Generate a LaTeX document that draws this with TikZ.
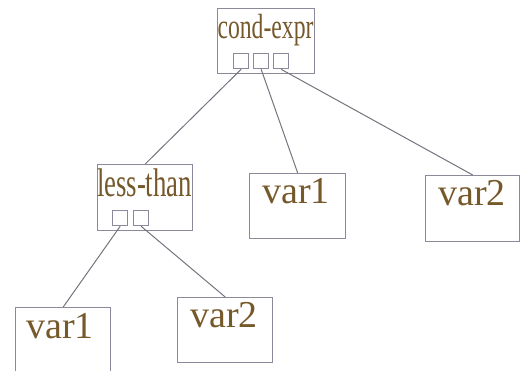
\documentclass[tikz,border=0pt]{standalone}
\usepackage{fontspec}
\setmainfont{Liberation Serif}
\usepackage{graphicx}
\definecolor{frame}{HTML}{8A8A9A}
\definecolor{wire}{HTML}{74747F}
\definecolor{ink}{HTML}{76592B}
\tikzset{
  cell/.style={draw=frame, line width=1.4pt, anchor=north west, inner sep=0pt},
  port/.style={draw=frame, line width=1.3pt, anchor=north west, inner sep=0pt, minimum width=15pt, minimum height=15pt},
  label/.style={anchor=base, inner sep=0pt, text=ink},
  edge/.style={draw=wire, line width=1pt},
}
\begin{document}
\begin{tikzpicture}[x=1pt, y=-1pt]
\useasboundingbox (0,0) rectangle (529,370);

% cond-expr node with three ports
\node[cell, minimum width=97pt, minimum height=65pt] (ce) at (217,8) {};
\node[label] (celab) at (265.5,38) {\resizebox{96pt}{\height}{\fontsize{35}{35}\selectfont cond-expr}};
\node[port] (cp1) at (233,53) {};
\node[port] (cp2) at (253,53) {};
\node[port] (cp3) at (273,53) {};

% less-than node with two ports
\node[cell, minimum width=95pt, minimum height=66pt] (lt) at (97,164) {};
\node[label] (ltlab) at (144.5,196) {\resizebox{95pt}{\height}{\fontsize{40}{40}\selectfont less-than}};
\node[port] (lp1) at (112,210) {};
\node[port] (lp2) at (133,210) {};

% leaves
\node[cell, minimum width=96pt, minimum height=65pt] (va) at (249,173) {};
\node[label] at (296,203) {\fontsize{38}{38}\selectfont var1};
\node[cell, minimum width=94pt, minimum height=66pt] (vb) at (425,175) {};
\node[label] at (472,205) {\fontsize{38}{38}\selectfont var2};
\node[cell, minimum width=95pt, minimum height=80pt] (vc) at (15,307) {};
\node[label] at (60,338) {\fontsize{38}{38}\selectfont var1};
\node[cell, minimum width=95pt, minimum height=65pt] (vd) at (177,297) {};
\node[label] at (224,327) {\fontsize{38}{38}\selectfont var2};

% connectors
\draw[edge] (cp1.south) -- (lt.north);
\draw[edge] (cp2.south) -- (va.north);
\draw[edge] (cp3.south) -- (vb.north);
\draw[edge] (lp1.south) -- (vc.north);
\draw[edge] (lp2.south) -- (vd.north);
\end{tikzpicture}
\end{document}
